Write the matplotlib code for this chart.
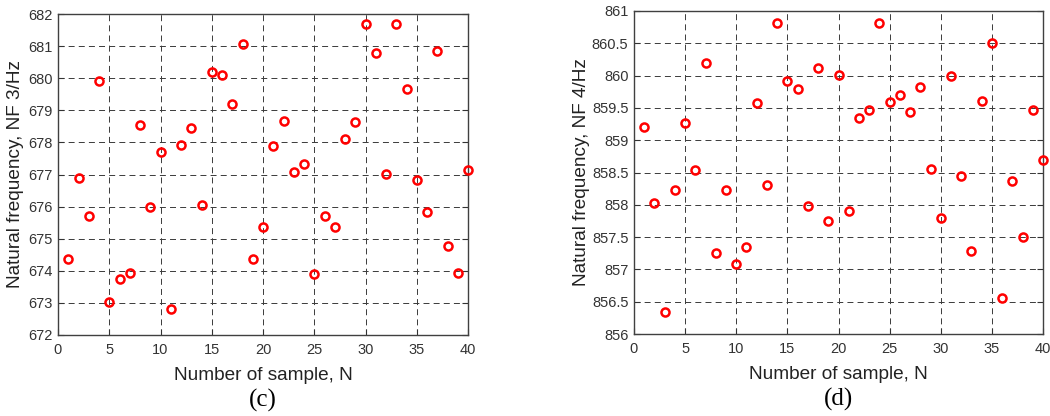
import matplotlib
matplotlib.use("Agg")
import matplotlib.pyplot as plt
import numpy as np

samples = list(range(1, 41))
nf3 = [674.38, 676.90, 675.71, 679.90, 673.02, 673.73, 673.93, 678.53, 676.00, 677.69,
       672.81, 677.93, 678.45, 676.04, 680.19, 680.10, 679.20, 681.06, 674.37, 675.36,
       677.90, 678.66, 677.07, 677.34, 673.91, 675.70, 675.38, 678.12, 678.62, 681.68,
       680.80, 677.01, 681.70, 679.67, 676.84, 675.82, 680.86, 674.78, 673.94, 677.13]
nf4 = [859.21, 858.03, 856.34, 858.23, 859.26, 858.54, 860.19, 857.25, 858.23, 857.08,
       857.35, 859.58, 858.30, 860.82, 859.91, 859.80, 857.98, 860.11, 857.75, 860.01,
       857.90, 859.35, 859.47, 860.81, 859.59, 859.70, 859.44, 859.83, 858.55, 857.80,
       860.00, 858.44, 857.29, 859.60, 860.50, 856.55, 858.37, 857.50, 859.47, 858.69]

xticks = [0, 5, 10, 15, 20, 25, 30, 35, 40]
yticks3 = [672, 673, 674, 675, 676, 677, 678, 679, 680, 681, 682]
yticks4 = [856, 856.5, 857, 857.5, 858, 858.5, 859, 859.5, 860, 860.5, 861]
ylabels = ["Natural frequency, NF 3/Hz", "Natural frequency, NF 4/Hz"]
xlabel = "Number of sample, N"
panel_labels = ["(c)", "(d)"]

plt.rcParams['font.family'] = ['Liberation Sans', 'DejaVu Sans']
plt.rcParams['lines.scale_dashes'] = False

fig = plt.figure(figsize=(10.5, 4.16), dpi=100)
ax1 = fig.add_axes([58/1050, 1-335/416, 410/1050, 321/416])
ax2 = fig.add_axes([634/1050, 1-334/416, 409/1050, 323/416])

def fmt(v):
    return ("%g" % v)

for ax, y, yt, yl, pl, lp in [(ax1, nf3, yticks3, ylabels[0], panel_labels[0], 2.5),
                              (ax2, nf4, yticks4, ylabels[1], panel_labels[1], 1.5)]:
    ax.plot(samples, y, linestyle='none', marker='o', markersize=5.8,
            markerfacecolor='none', markeredgecolor='#ff0000', markeredgewidth=1.8,
            zorder=3, clip_on=False)
    ax.set_xlim(0, 40)
    ax.set_ylim(yt[0], yt[-1])
    ax.set_xticks(xticks)
    ax.set_yticks(yt)
    ax.set_yticklabels([fmt(v) for v in yt])
    ax.grid(True, linestyle=(0, (4.3, 3.0)), color='#3a3a3a', linewidth=0.7)
    ax.set_axisbelow(True)
    ax.tick_params(direction='in', length=4, width=0.8, colors='#333333',
                   labelsize=10.5, top=False, right=True)
    ax.tick_params(axis='x', pad=6)
    ax.tick_params(axis='y', pad=4)
    for sp in ax.spines.values():
        sp.set_color('#404040')
        sp.set_linewidth(1.0)
    ax.set_ylabel(yl, fontsize=13.7, color='#222222', labelpad=lp)
    ax.set_xlabel(xlabel, fontsize=13.7, color='#222222', labelpad=7)
    ax.text(0.5, -0.2025, pl, transform=ax.transAxes, ha='center', va='center',
            fontsize=18, family='Liberation Serif', color='black')

fig.savefig("out.png", dpi=100)
